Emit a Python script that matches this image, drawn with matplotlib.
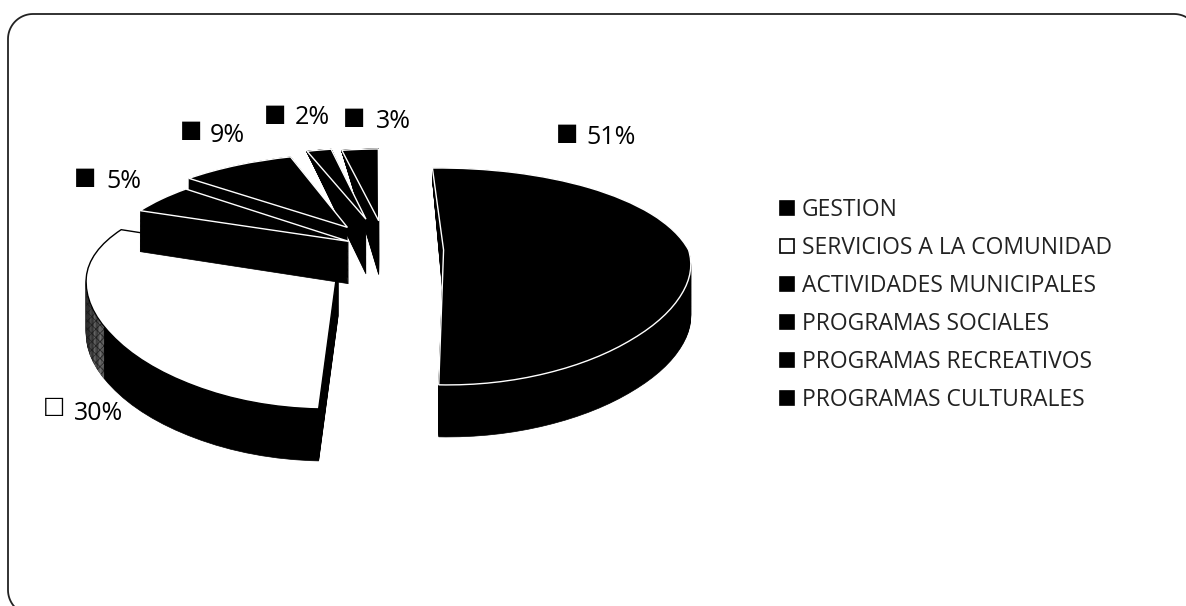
import matplotlib
matplotlib.use('Agg')
import numpy as np
import matplotlib.pyplot as plt
from matplotlib.patches import Wedge
from matplotlib.transforms import Transform

# Chart values
categories = ['GESTION', 'SERVICIOS A LA COMUNIDAD', 'ACTIVIDADES MUNICIPALES',
              'PROGRAMAS SOCIALES', 'PROGRAMAS RECREATIVOS', 'PROGRAMAS CULTURALES']
percentages = [51, 30, 5, 9, 2, 3]

# Styling of the slices
explode = [0.235, 0.23, 0.18, 0.29, 0.34, 0.31]
face_colors = ['black', 'white', 'black', 'black', 'black', 'black']
edge_colors = ['white', 'black', 'white', 'white', 'white', 'white']
draw_rank = [1, 0, 5, 4, 3, 2]
mark_pos = [(556, 134), (43, 407), (74, 178), (180, 131), (264, 115), (343, 118)]
text_pos = [(586, 137), (74, 414), (106, 181), (210, 135), (295, 117), (376, 121)]

plt.rcParams['font.family'] = ['Open Sans', 'DejaVu Sans']
plt.rcParams['hatch.linewidth'] = 0.6


# Projects the flat pie onto the page, the rear of the pie being further away
class TiltedPie(Transform):
	input_dims = 2
	output_dims = 2

	def __init__(self, drop):
		super().__init__()
		self.drop = drop

	def transform_non_affine(self, values):
		x = values[:, 0]
		y = values[:, 1]
		s = 1 + 0.244 * y
		sx = 1 + np.where(y > 0, 0.2, 0.12) * y
		depth = np.interp(y, [-2, 0, 0.08, 0.33, 0.5, 1.25], [52, 52, 42, 55, 30, 1])
		page_x = 415 + (-29 + 245 * x) / sx
		page_y = 250 - 102 * y / s + self.drop * depth
		return np.column_stack([page_x, page_y])


fig = plt.figure(figsize=(11.86, 6.06), dpi=100)
ax = fig.add_axes([0, 0, 1, 1])

# Stack black copies of the pie from the bottom up, the last one is the top face
drops = np.linspace(1, 0, 50)
top_wedges = None
for drop in drops:
	wedges, _ = ax.pie(percentages, explode=explode, startangle=91.8, counterclock=False)
	tilt = TiltedPie(drop) + ax.transData
	for i, wedge in enumerate(wedges):
		wedge.set_transform(tilt)
		wedge.set_zorder(draw_rank[i] + 1 - drop * 0.5)
		if drop == 0:
			wedge.set_facecolor(face_colors[i])
			wedge.set_edgecolor(edge_colors[i])
			wedge.set_linewidth(1.0)
		else:
			wedge.set_facecolor('black')
			wedge.set_edgecolor('black')
			wedge.set_linewidth(0.5)
	# Speckled left end of the white slice's side
	if drop > 0:
		speckle = Wedge(wedges[1].center, 1, 176, 210, facecolor='white', edgecolor='black',
				linewidth=0, hatch='xxxx', transform=tilt, zorder=1 - drop * 0.5 + 0.01)
		ax.add_patch(speckle)
	top_wedges = wedges

ax.set_aspect('auto')
ax.set_xlim(0, 1186)
ax.set_ylim(606, 0)
ax.axis('off')

# Rounded frame of the chart area, it runs off the right and bottom of the scan
corner = np.linspace(0, np.pi / 2, 20)
left, top, right, bottom, radius = 8, 14, 1199, 615, 25
frame_x = np.concatenate([left + radius - radius * np.cos(corner[::-1]),
		left + radius - radius * np.cos(corner),
		right - radius + radius * np.sin(corner)])
frame_y = np.concatenate([bottom - radius + radius * np.sin(corner[::-1]),
		top + radius - radius * np.sin(corner),
		top + radius - radius * np.cos(corner)])
ax.plot(frame_x, frame_y, color='#222222', linewidth=1.3, zorder=10)

# Data labels
for i, value in enumerate(percentages):
	mark = '□' if face_colors[i] == 'white' else '■'
	ax.text(mark_pos[i][0], mark_pos[i][1], mark, fontsize=17, va='center', ha='left',
			color='black', zorder=12)
	ax.text(text_pos[i][0], text_pos[i][1], str(value) + '%', fontsize=18, va='center',
			ha='left', color='black', zorder=12)

# Legend
leg = ax.legend(top_wedges, categories, loc='upper left', bbox_to_anchor=(780 / 1186, 1 - 198 / 606),
		frameon=False, fontsize=16.5, labelspacing=0.61, handlelength=0.6, handleheight=0.6,
		handletextpad=0.35, borderpad=0, borderaxespad=0)
for handle in leg.get_patches():
	handle.set_edgecolor('black')
	handle.set_linewidth(1.2)
for text in leg.get_texts():
	text.set_color('#222222')

plt.savefig('out.png', dpi=100)
